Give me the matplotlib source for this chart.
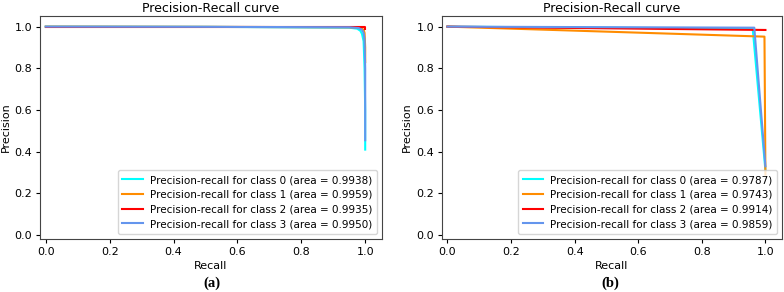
import matplotlib
matplotlib.use("Agg")
import matplotlib.pyplot as plt

colors = ["cyan", "darkorange", "red", "cornflowerblue"]

# Panel (a)
areas_a = [0.9938, 0.9959, 0.9935, 0.9950]
recall_a = [
    [0.0, 0.50, 0.95, 0.975, 0.985, 0.99, 0.995, 0.998, 1.0, 1.0],
    [0.0, 0.50, 0.95, 0.98, 0.99, 0.995, 0.998, 1.0, 1.0],
    [0.0, 0.50, 0.95, 0.99, 1.0, 1.0],
    [0.0, 0.50, 0.95, 0.98, 0.99, 0.995, 0.998, 1.0, 1.0],
]
precision_a = [
    [1.0, 0.999, 0.995, 0.99, 0.98, 0.965, 0.93, 0.80, 0.60, 0.41],
    [1.0, 0.999, 0.997, 0.995, 0.99, 0.985, 0.97, 0.90, 0.83],
    [1.0, 1.0, 1.0, 1.0, 1.0, 0.99],
    [1.0, 0.999, 0.997, 0.993, 0.985, 0.97, 0.94, 0.80, 0.455],
]

# Panel (b)
areas_b = [0.9787, 0.9743, 0.9914, 0.9859]
recall_b = [
    [0.0, 0.960, 1.0],
    [0.0, 0.997, 1.0],
    [0.0, 1.0, 1.0],
    [0.0, 0.965, 1.0],
]
precision_b = [
    [1.0, 0.990, 0.31],
    [1.0, 0.952, 0.29],
    [1.0, 0.984, 0.984],
    [1.0, 0.995, 0.33],
]

plt.rcParams["font.family"] = ["DejaVu Sans"]
fig = plt.figure(figsize=(7.84, 2.92), dpi=100)
ax1 = fig.add_axes([0.051, 0.1815, 0.436, 0.7637])
ax2 = fig.add_axes([0.5634, 0.1815, 0.434, 0.7637])

for ax, rec, prec, areas, tag, xc in [
    (ax1, recall_a, precision_a, areas_a, "(a)", 0.27),
    (ax2, recall_b, precision_b, areas_b, "(b)", 0.778),
]:
    for i in range(4):
        ax.plot(rec[i], prec[i], color=colors[i], lw=1.5,
                label="Precision-recall for class %d (area = %.4f)" % (i, areas[i]))
    ax.set_xlim(-0.018, 1.052)
    ax.set_ylim(-0.019, 1.051)
    ax.set_xticks([0.0, 0.2, 0.4, 0.6, 0.8, 1.0])
    ax.set_yticks([0.0, 0.2, 0.4, 0.6, 0.8, 1.0])
    ax.tick_params(labelsize=8, length=3, pad=2.5)
    ax.set_xlabel("Recall", fontsize=8, labelpad=3)
    ax.set_ylabel("Precision", fontsize=8, labelpad=3)
    ax.set_title("Precision-Recall curve", fontsize=9, pad=3)
    ax.legend(loc="lower right", fontsize=7.5, handlelength=2.0, labelspacing=0.45,
              borderpad=0.45, handletextpad=0.6)
    for s in ax.spines.values():
        s.set_color("#444444")
    fig.text(xc, 0.031, tag, ha="center", va="center", fontsize=10.5,
             fontweight="bold", family="Liberation Serif")

fig.savefig("out.png", dpi=100)
